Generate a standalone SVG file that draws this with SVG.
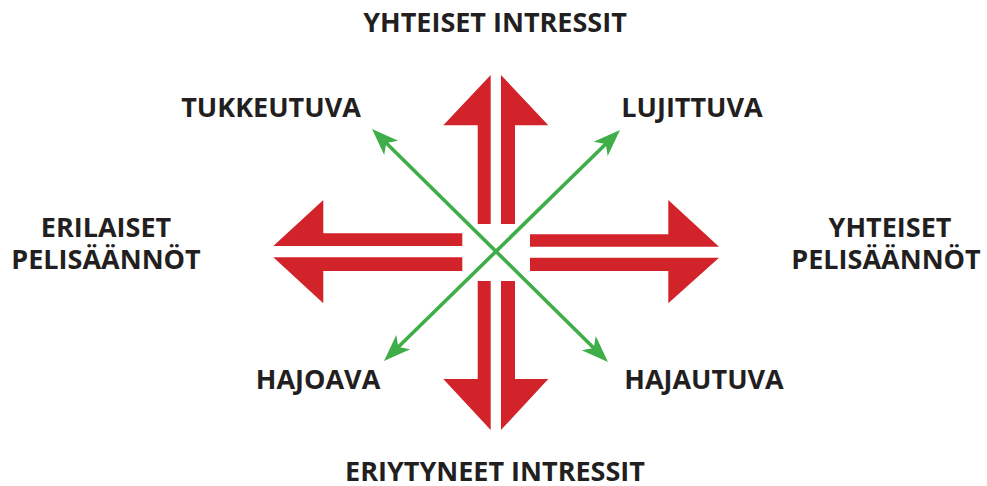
<svg xmlns="http://www.w3.org/2000/svg" width="987" height="486" viewBox="0 0 987 486">
<style>
.lbl{font-family:"Open Sans","Liberation Sans",sans-serif;font-weight:700;font-size:27px;fill:#231f20;text-anchor:middle}
.red{fill:#d2232a}
.grn{stroke:#3fae49;stroke-width:3.6;fill:none}
</style>
<defs>
<marker id="gh" markerUnits="userSpaceOnUse" viewBox="-14 -12 30 24" refX="0" refY="0" markerWidth="30" markerHeight="24" orient="auto-start-reverse">
<path d="M15,0 L-12,-10 L-5,0 L-12,10 Z" fill="#3fae49"/>
</marker>
</defs>
<rect width="987" height="486" fill="#fff"/>
<g id="arrow-up">
<polygon class="red" points="490.7,75 443.3,125.3 477.7,125.3 477.7,224 490.7,224"/>
<polygon class="red" points="501,75 548.3,125.3 515,125.3 515,224 501,224"/>
</g>
<g id="arrow-down">
<polygon class="red" points="490.7,430 443.3,379 477.7,379 477.7,281 490.7,281"/>
<polygon class="red" points="501,430 548.3,379 515,379 515,281 501,281"/>
</g>
<g id="arrow-left">
<polygon class="red" points="273.3,246 323.3,200 323.3,233.3 462.3,233.3 462.3,246"/>
<polygon class="red" points="273.3,257.3 323.3,303.3 323.3,271 462.3,271 462.3,257.3"/>
</g>
<g id="arrow-right">
<polygon class="red" points="719,246.7 668.3,200 668.3,234.3 530,234.3 530,246.7"/>
<polygon class="red" points="719,257.7 668.3,303.3 668.3,271 530,271 530,257.7"/>
</g>
<g id="connectors">
<line class="grn" x1="382.7" y1="139.5" x2="597.3" y2="351.5" marker-start="url(#gh)" marker-end="url(#gh)"/>
<line class="grn" x1="609.3" y1="140.5" x2="394.7" y2="350.5" marker-start="url(#gh)" marker-end="url(#gh)"/>
</g>
<g id="label-top"><text class="lbl" x="495" y="32">YHTEISET INTRESSIT</text></g>
<g id="label-bottom"><text class="lbl" x="495" y="481">ERIYTYNEET INTRESSIT</text></g>
<g id="label-tl"><text class="lbl" x="271" y="117">TUKKEUTUVA</text></g>
<g id="label-tr"><text class="lbl" x="692" y="117">LUJITTUVA</text></g>
<g id="label-left"><text class="lbl" x="106" y="237">ERILAISET</text><text class="lbl" x="106" y="269">PELISÄÄNNÖT</text></g>
<g id="label-right"><text class="lbl" x="890" y="237">YHTEISET</text><text class="lbl" x="886" y="269">PELISÄÄNNÖT</text></g>
<g id="label-bl"><text class="lbl" x="318" y="389">HAJOAVA</text></g>
<g id="label-br"><text class="lbl" x="704" y="389">HAJAUTUVA</text></g>
</svg>
